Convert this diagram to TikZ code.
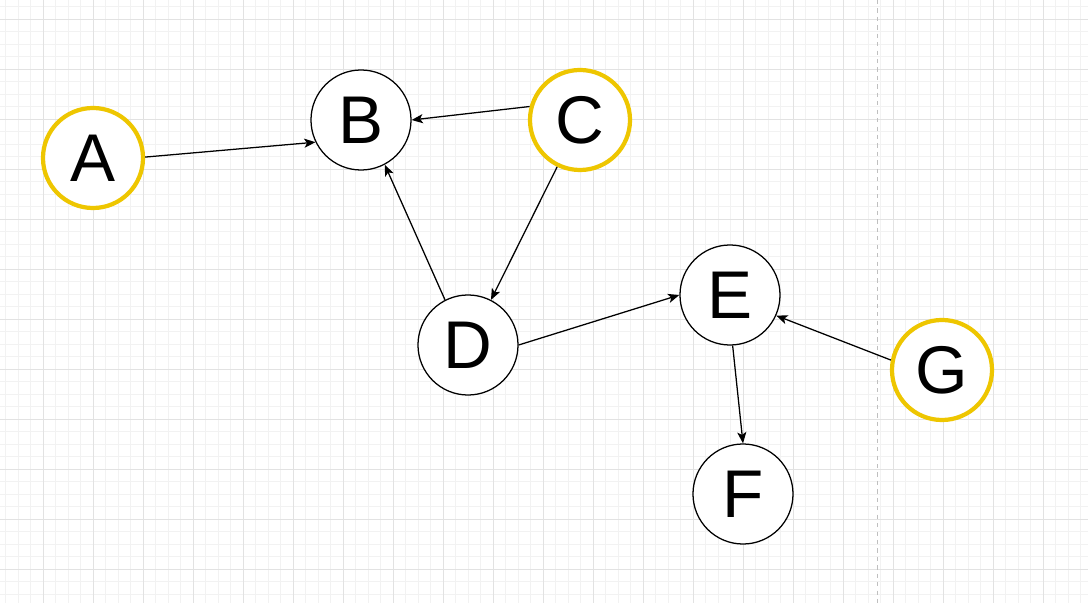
\documentclass[tikz,border=0pt]{standalone}
\usepackage{fontspec}
\setmainfont{Liberation Sans}
\usepackage{tikz}
\usetikzlibrary{arrows.meta}
\usepackage{xcolor}
\definecolor{gridmajor}{RGB}{226,226,226}
\definecolor{gridminor}{RGB}{242,242,242}
\definecolor{obsyellow}{RGB}{238,198,0}

\tikzset{
  var/.style={circle,draw=black,line width=0.9pt,fill=white,minimum size=2.5cm,inner sep=0pt,
    font=\fontsize{48}{52}\selectfont},
  observed/.style={var,draw=obsyellow,line width=3pt},
  edge/.style={line width=0.9pt,-{Stealth[length=8pt,width=6.5pt,inset=2pt]}},
  minorline/.style={gridminor,line width=0.6pt},
  majorline/.style={gridmajor,line width=0.7pt}
}

\begin{document}
\begin{tikzpicture}[x=0.025cm,y=-0.025cm]
    \useasboundingbox (0,0) rectangle (1088,603);
    \fill[white] (0,0) rectangle (1088,603);
    % background grid
    \begin{scope}
        \clip (0,0) rectangle (1088,603);
        \foreach \i in {0,...,88} \draw[minorline] ({-7+12.5*\i},0) -- ({-7+12.5*\i},603);
        \foreach \j in {0,...,50} \draw[minorline] (0,{-6+12.5*\j}) -- (1088,{-6+12.5*\j});
        \foreach \i in {0,...,22} \draw[majorline] ({-7+50*\i},0) -- ({-7+50*\i},603);
        \foreach \j in {0,...,12} \draw[majorline] (0,{-31+50*\j}) -- (1088,{-31+50*\j});
        \draw[gray!50,dashed,line width=0.6pt] (877,0) -- (877,603);
    \end{scope}

    \node[observed] (A) at (93,158) {A};
    \node[var] (B) at (361,120) {B};
    \node[observed] (C) at (580,120) {C};
    \node[var] (D) at (468,345) {D};
    \node[var] (E) at (730,295) {E};
    \node[var] (F) at (743,494) {F};
    \node[observed] (G) at (942,370) {G};

    \draw[edge] (A.1) -- (B.206);
    \draw[edge] (C.165) -- (B.0);
    \draw[edge] (D.117) -- (B.298);
    \draw[edge] (C.244) -- (D.63);
    \draw[edge] (D.0) -- (E.180);
    \draw[edge] (G.169) -- (E.336);
    \draw[edge] (E.273) -- (F.90);
\end{tikzpicture}
\end{document}
